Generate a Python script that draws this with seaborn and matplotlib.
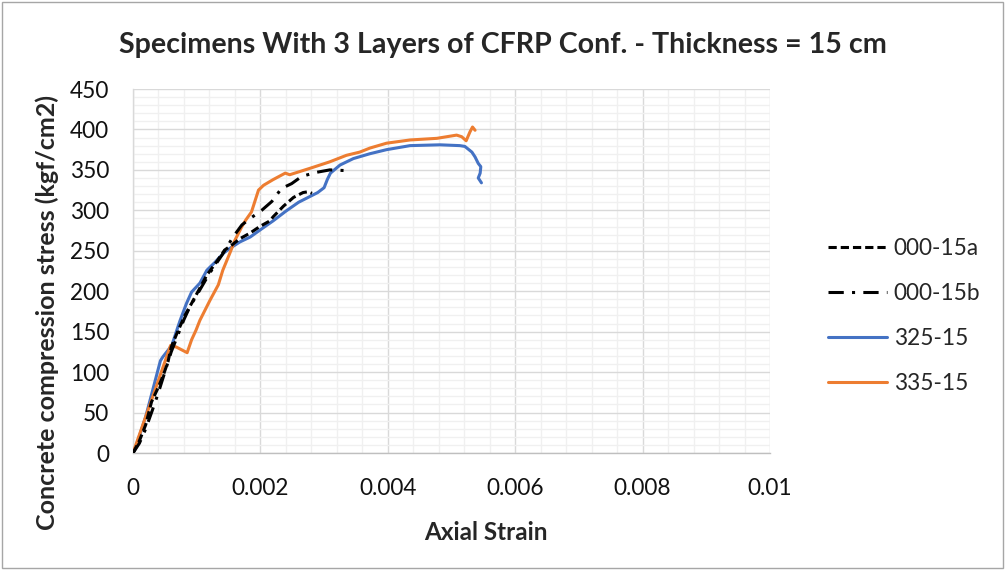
import numpy as np
import pandas as pd
import matplotlib
matplotlib.use("Agg")
import matplotlib.pyplot as plt
from matplotlib.ticker import FixedLocator, MultipleLocator
from matplotlib.lines import Line2D
from matplotlib.patches import Rectangle
import seaborn as sns

# ---------------- data ----------------
title = "Specimens With 3 Layers of CFRP Conf. - Thickness = 15 cm"
x_label = "Axial Strain"
y_label = "Concrete compression stress (kgf/cm2)"
series_names = ["000-15a", "000-15b", "325-15", "335-15"]

strain_a = [0, 0.0001, 0.0002, 0.00029, 0.00039, 0.00047, 0.00055, 0.0006, 0.00069, 0.00082,
            0.00092, 0.00103, 0.00116, 0.00129, 0.00144, 0.00155, 0.00168, 0.00184, 0.00199,
            0.00215, 0.0022, 0.00236, 0.00252, 0.00267, 0.00275, 0.00281]
stress_a = [0, 15, 35, 63, 80, 95, 113, 131, 148, 171, 185, 201, 220, 234, 251, 257, 265, 272,
            280, 287, 292, 305, 316, 322, 323, 321]

strain_b = [0, 0.0001, 0.0002, 0.0003, 0.0004, 0.0005, 0.0006, 0.0007, 0.0008, 0.0009, 0.001,
            0.0012, 0.0014, 0.00157, 0.00171, 0.00184, 0.00202, 0.00218, 0.00233, 0.00249,
            0.00265, 0.00288, 0.00309, 0.00338]
stress_b = [0, 12, 30, 52, 75, 100, 125, 145, 165, 182, 195, 222, 245, 267, 282, 290, 300, 311,
            327, 333, 342, 347, 350, 349]

strain_325 = [0, 0.00003, 0.00008, 0.0002, 0.0003, 0.0004, 0.00043, 0.00047, 0.0005, 0.00055,
              0.00061, 0.00068, 0.00074, 0.00084, 0.00092, 0.00105, 0.00116, 0.00129, 0.00142,
              0.00152, 0.00168, 0.00184, 0.002, 0.0022, 0.0024, 0.0026, 0.0028, 0.0029, 0.003,
              0.00305, 0.0031, 0.00325, 0.00346, 0.00372, 0.00398, 0.00435, 0.00482, 0.00513,
              0.00521, 0.00532, 0.00537, 0.00542, 0.00546, 0.00545, 0.00542, 0.00547]
stress_325 = [0, 5, 16, 45, 75, 105, 114, 119, 122, 127, 133, 150, 164, 185, 199, 210, 226, 236,
              247, 253, 261, 267, 276, 287, 299, 310, 318, 322, 328, 338, 346, 356, 364, 370,
              375, 380, 381, 380, 379, 372, 366, 358, 354, 346, 340, 334]

strain_335 = [0, 0.0002, 0.0004, 0.00059, 0.00068, 0.00085, 0.00092, 0.00099, 0.00105, 0.00121,
              0.00134, 0.00141, 0.00152, 0.0016, 0.00171, 0.00177, 0.00186, 0.00197, 0.00205,
              0.0022, 0.00239, 0.00246, 0.00278, 0.00309, 0.00335, 0.00356, 0.00372, 0.00398,
              0.00435, 0.00477, 0.00508, 0.00516, 0.00523, 0.00529, 0.00533, 0.00537]
stress_335 = [0, 45, 90, 133, 131, 124, 140, 152, 164, 189, 208, 226, 247, 263, 280, 288, 298,
              325, 331, 338, 346, 344, 352, 360, 368, 372, 377, 383, 387, 389, 393, 391, 386,
              397, 403, 399]

x_ticks = [0, 0.002, 0.004, 0.006, 0.008, 0.01]
x_tick_labels = ["0", "0.002", "0.004", "0.006", "0.008", "0.01"]
y_ticks = [0, 50, 100, 150, 200, 250, 300, 350, 400, 450]
y_tick_labels = ["0", "50", "100", "150", "200", "250", "300", "350", "400", "450"]

# ---------------- style ----------------
sns.set_style("white")
plt.rcParams["font.family"] = ["Lato", "DejaVu Sans"]

colors = ["black", "black", "#4472C4", "#ED7D31"]
styles = [(0, (2.7, 1.3)), (0, (5, 2.7, 1, 2.7)), "-", "-"]
lw = 2.2

fig = plt.figure(figsize=(10.05, 5.70), dpi=100)
ax = fig.add_axes([133 / 1005, 1 - 453 / 570, 637 / 1005, 364 / 570])

data = [(strain_a, stress_a), (strain_b, stress_b), (strain_325, stress_325), (strain_335, stress_335)]
order = [2, 3, 0, 1]  # draw coloured first, black on top
for i in order:
    xs, ys = data[i]
    df = pd.DataFrame({"strain": xs, "stress": ys})
    sns.lineplot(data=df, x="strain", y="stress", ax=ax, sort=False, estimator=None,
                 color=colors[i], linewidth=lw, linestyle=styles[i], zorder=3 + (i < 2))

ax.set_xlim(0, 0.01)
ax.set_ylim(0, 450)
ax.xaxis.set_major_locator(FixedLocator(x_ticks))
ax.yaxis.set_major_locator(FixedLocator(y_ticks))
ax.set_xticklabels(x_tick_labels)
ax.set_yticklabels(y_tick_labels)
ax.xaxis.set_minor_locator(MultipleLocator(0.0004))
ax.yaxis.set_minor_locator(MultipleLocator(10))
ax.grid(which="minor", color="#f0f0f0", linewidth=1.0, zorder=0)
ax.grid(which="major", color="#d9d9d9", linewidth=1.0, zorder=1)
ax.set_axisbelow(True)
for s in ["top", "right"]:
    ax.spines[s].set_visible(False)
ax.spines["left"].set_color("#d9d9d9")
ax.spines["bottom"].set_color("#bfbfbf")
ax.spines["left"].set_linewidth(1.0)
ax.spines["bottom"].set_linewidth(1.0)
ax.tick_params(which="both", length=0, labelsize=16.3, colors="#111111")
ax.tick_params(axis="y", pad=17)
ax.tick_params(axis="x", pad=18)

ax.set_xlabel("")
ax.set_ylabel("")
fig.text(486 / 1005, 1 - 532 / 570, x_label, ha="center", va="center",
         fontsize=17.5, fontweight="bold")
fig.text(47 / 1005, 1 - 313 / 570, y_label, ha="center", va="center", rotation=90,
         fontsize=18, fontweight="bold")
fig.text(503 / 1005, 1 - 45 / 570, title, ha="center", va="center", fontsize=20.6, fontweight="bold")

handles = [Line2D([0], [0], color=colors[i], linewidth=lw, linestyle=styles[i]) for i in range(4)]
fig.legend(handles, series_names, loc="center left", bbox_to_anchor=(828 / 1005, 1 - 316 / 570),
           frameon=False, fontsize=16.3, handlelength=2.6, handletextpad=0.3, labelspacing=1.07,
           borderpad=0, borderaxespad=0)

fig.patches.append(Rectangle((0.002, 0.003), 0.996, 0.994, transform=fig.transFigure,
                             fill=False, edgecolor="#a6a6a6", linewidth=1.0))

fig.savefig("out.png", dpi=100)
